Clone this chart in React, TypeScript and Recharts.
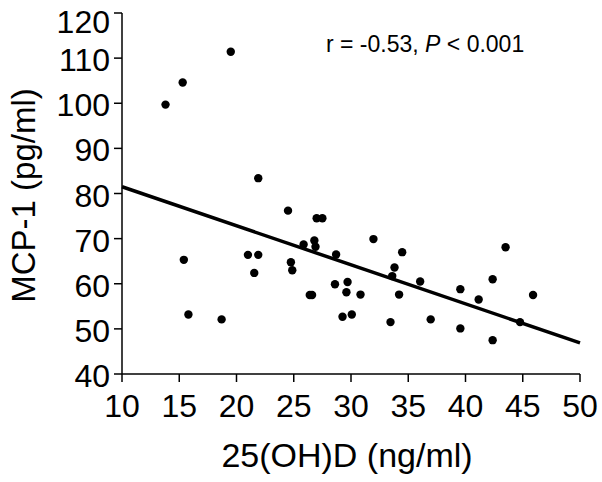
import React from "react";
import {
  ScatterChart,
  Scatter,
  XAxis,
  YAxis,
  ReferenceLine,
} from "recharts";

// 25(OH)D (ng/ml) vs MCP-1 (pg/ml)
const vitD = [
  13.8, 15.3, 19.5, 21.9, 24.5, 27.0, 27.5, 15.4, 21.0, 21.9, 21.55, 15.8, 18.7,
  24.75, 24.87, 25.86, 26.8, 26.9, 28.7, 26.4, 26.6, 28.6, 29.7, 29.6, 29.26,
  31.96, 34.47, 33.8, 33.6, 36.04, 30.83, 30.07, 33.45, 34.2, 36.96, 39.55,
  39.55, 41.15, 42.37, 42.37, 43.5, 44.76, 45.9,
];
const mcp1 = [
  99.7, 104.6, 111.4, 83.4, 76.2, 74.5, 74.5, 65.3, 66.4, 66.4, 62.4, 53.2, 52.1,
  64.75, 63.0, 68.7, 69.6, 68.2, 66.5, 57.5, 57.5, 59.9, 60.4, 58.1, 52.7,
  69.9, 67.0, 63.6, 61.7, 60.5, 57.6, 53.2, 51.5, 57.6, 52.1, 58.8,
  50.1, 56.5, 61.0, 47.5, 68.1, 51.5, 57.5,
];
// regression line end points
const fitLine = [
  { x: 10, y: 81.5 },
  { x: 50, y: 46.9 },
];
const xTicks = [10, 15, 20, 25, 30, 35, 40, 45, 50];
const yTicks = [40, 50, 60, 70, 80, 90, 100, 110, 120];

const points = vitD.map((x, i) => ({ x, y: mcp1[i] }));

const font = "'Liberation Sans', Arial, sans-serif";

const XTick = (props: any) => (
  <text
    x={props.x}
    y={props.y + 33}
    textAnchor="middle"
    fontFamily={font}
    fontSize={32}
    fill="#000"
  >
    {props.payload.value}
  </text>
);

const YTick = (props: any) => (
  <text
    x={props.x - 2}
    // top label sits a bit lower so it stays inside the frame
    y={props.y + (props.payload.value === 120 ? 20 : 13)}
    textAnchor="end"
    fontFamily={font}
    fontSize={32}
    fill="#000"
  >
    {props.payload.value}
  </text>
);

const XTitle = (props: any) => {
  const vb = props.viewBox;
  return (
    <text
      x={vb.x + vb.width / 2 - 4}
      y={vb.y + 93}
      textAnchor="middle"
      fontFamily={font}
      fontSize={34}
      fill="#000"
    >
      25(OH)D (ng/ml)
    </text>
  );
};

const YTitle = (props: any) => {
  const vb = props.viewBox;
  const cy = vb.y + vb.height / 2 + 2;
  return (
    <text
      x={35}
      y={cy}
      transform={`rotate(-90, 35, ${cy})`}
      textAnchor="middle"
      fontFamily={font}
      fontSize={33}
      fill="#000"
    >
      MCP-1 (pg/ml)
    </text>
  );
};

const Dot = (props: any) => <circle cx={props.cx} cy={props.cy} r={4.2} fill="#000" />;

export default function App() {
  return (
    <div style={{ position: "absolute", left: 0, top: 0, background: "#fff" }}>
      <ScatterChart
        width={602}
        height={482}
        margin={{ top: 13, right: 22, left: 0, bottom: 0 }}
      >
        <XAxis
          type="number"
          dataKey="x"
          domain={[10, 50]}
          ticks={xTicks}
          interval={0}
          height={108}
          tickSize={8}
          stroke="#000"
          strokeWidth={1.5}
          tickLine={{ stroke: "#000", strokeWidth: 1.5 }}
          tick={<XTick />}
          label={<XTitle />}
        />
        <YAxis
          type="number"
          dataKey="y"
          domain={[40, 120]}
          ticks={yTicks}
          interval={0}
          width={122}
          tickSize={8}
          stroke="#000"
          strokeWidth={1.5}
          tickLine={{ stroke: "#000", strokeWidth: 1.5 }}
          tick={<YTick />}
          label={<YTitle />}
        />
        <ReferenceLine
          segment={fitLine}
          stroke="#000"
          strokeWidth={3.5}
          ifOverflow="visible"
        />
        <Scatter data={points} shape={<Dot />} isAnimationActive={false} />
        <text
          x={326}
          y={52}
          fontFamily={font}
          fontSize={23}
          fill="#000"
        >
          r = -0.53, <tspan fontStyle="italic">P</tspan> {"< 0.001"}
        </text>
      </ScatterChart>
    </div>
  );
}
